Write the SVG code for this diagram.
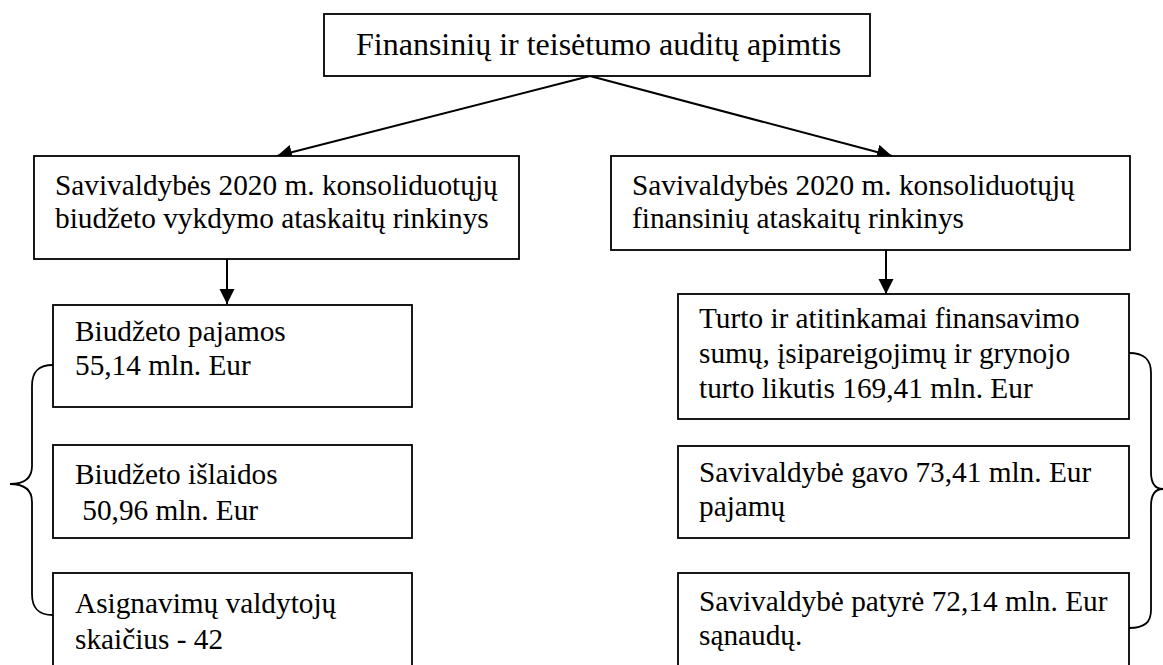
<svg xmlns="http://www.w3.org/2000/svg" width="1163" height="665" viewBox="0 0 1163 665">
<defs>
<style>
.box{fill:#ffffff;stroke:#000000;stroke-width:1.8}
.t{font-family:"Liberation Serif","Times New Roman",serif;font-size:29.3px;fill:#000000}
.title{font-size:32px}
.conn{fill:none;stroke:#000000;stroke-width:2}
.brace{fill:none;stroke:#000000;stroke-width:1.8}
</style>
<marker id="arrow" markerUnits="userSpaceOnUse" markerWidth="16" markerHeight="16" refX="15" refY="7.5" orient="auto">
<path d="M0,0 L15,7.5 L0,15 z" fill="#000000"/>
</marker>
</defs>
<rect width="1163" height="665" fill="#ffffff"/>

<g id="connectors">
<line class="conn" x1="590" y1="76" x2="277" y2="156" marker-end="url(#arrow)"/>
<line class="conn" x1="590" y1="76" x2="892" y2="156" marker-end="url(#arrow)"/>
<line class="conn" x1="227" y1="259" x2="227" y2="304" marker-end="url(#arrow)"/>
<line class="conn" x1="886" y1="250" x2="886" y2="294" marker-end="url(#arrow)"/>
<path class="brace" d="M53,365 C38,365 32,372 32,386 L32,466 C32,478 24,484 10,484 C24,484 32,490 32,502 L32,594 C32,608 38,615 53,615"/>
<path class="brace" d="M1129,353 C1145,353 1151,360 1151,373 L1151,472 C1151,483 1155,489 1163,489 C1155,489 1151,495 1151,506 L1151,610 C1151,622 1145,628 1129,628"/>
</g>

<g id="node-top">
<rect class="box" x="324" y="14" width="546" height="62"/>
<text class="t title" x="356" y="55">Finansinių ir teisėtumo auditų apimtis</text>
</g>

<g id="node-budget">
<rect class="box" x="34" y="156" width="485" height="103"/>
<text class="t" x="55" y="195">Savivaldybės 2020 m. konsoliduotųjų</text>
<text class="t" x="55" y="228">biudžeto vykdymo ataskaitų rinkinys</text>
</g>

<g id="node-financial">
<rect class="box" x="611" y="156" width="519" height="94"/>
<text class="t" x="632" y="195">Savivaldybės 2020 m. konsoliduotųjų</text>
<text class="t" x="632" y="228">finansinių ataskaitų rinkinys</text>
</g>

<g id="node-income">
<rect class="box" x="53" y="305" width="359" height="102"/>
<text class="t" x="75" y="341">Biudžeto pajamos</text>
<text class="t" x="75" y="375">55,14 mln. Eur</text>
</g>

<g id="node-expenses">
<rect class="box" x="53" y="445" width="359" height="93"/>
<text class="t" x="75" y="484">Biudžeto išlaidos</text>
<text class="t" x="75" y="520" xml:space="preserve"> 50,96 mln. Eur</text>
</g>

<g id="node-managers">
<rect class="box" x="53" y="573" width="359" height="110"/>
<text class="t" x="75" y="613">Asignavimų valdytojų</text>
<text class="t" x="75" y="649">skaičius - 42</text>
</g>

<g id="node-assets">
<rect class="box" x="678" y="294" width="451" height="125"/>
<text class="t" x="699" y="328">Turto ir atitinkamai finansavimo</text>
<text class="t" x="699" y="363">sumų, įsipareigojimų ir grynojo</text>
<text class="t" x="699" y="398">turto likutis 169,41 mln. Eur</text>
</g>

<g id="node-revenue">
<rect class="box" x="678" y="446" width="451" height="92"/>
<text class="t" x="699" y="482">Savivaldybė gavo 73,41 mln. Eur</text>
<text class="t" x="699" y="516">pajamų</text>
</g>

<g id="node-costs">
<rect class="box" x="678" y="573" width="451" height="110"/>
<text class="t" x="699" y="611">Savivaldybė patyrė 72,14 mln. Eur</text>
<text class="t" x="699" y="645">sąnaudų.</text>
</g>
</svg>
